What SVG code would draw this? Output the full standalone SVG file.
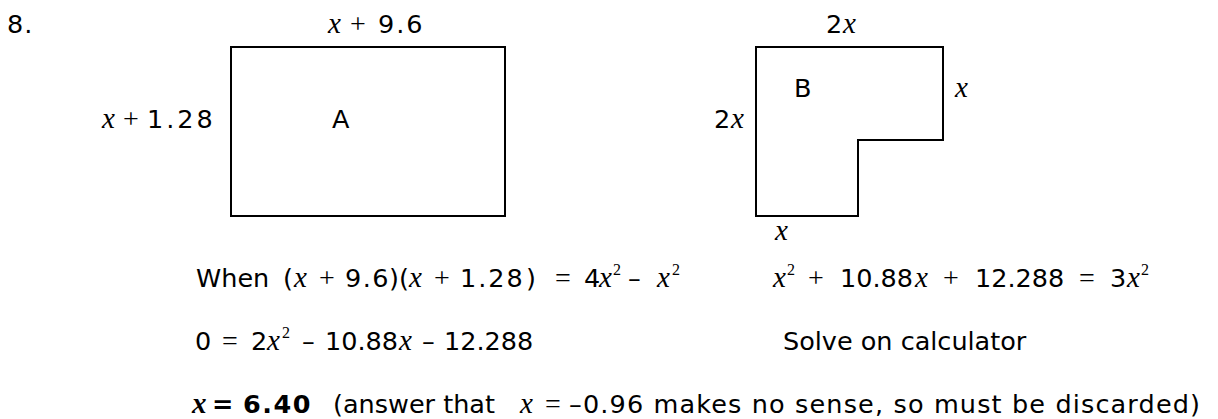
<svg xmlns="http://www.w3.org/2000/svg" width="1218" height="419" viewBox="0 0 1218 419">
<style>
.t{font-family:"DejaVu Sans",Verdana,sans-serif;font-size:25.5px;fill:#000}
.n{letter-spacing:2px}
.m{font-family:"Liberation Serif","Times New Roman",serif;font-style:italic;font-size:29px;fill:#000}
.o{font-family:"Liberation Serif","Times New Roman",serif;font-size:28px;fill:#000}
.s{font-family:"Liberation Serif","Times New Roman",serif;font-size:16px;fill:#000}
.b{font-weight:bold}
.shape{fill:none;stroke:#000;stroke-width:2}
</style>
<rect width="1218" height="419" fill="#fff"/>
<text class="t" x="7" y="33" letter-spacing="1">8.</text>

<g id="rect-A">
<rect class="shape" x="231" y="47" width="274" height="169"/>
<text class="t" x="332" y="128">A</text>
<text class="m" x="328" y="33">x</text>
<text class="o" x="350" y="33">+</text>
<text class="t n" x="378" y="33">9.6</text>
<text class="m" x="102" y="128">x</text>
<text class="o" x="123" y="128">+</text>
<text class="t" x="147" y="128" letter-spacing="3">1.28</text>
</g>

<g id="shape-B">
<path class="shape" d="M756,47 H943 V140 H858 V216 H756 Z"/>
<text class="t" x="794" y="97">B</text>
<text class="t" x="826" y="33">2</text>
<text class="m" x="843" y="33">x</text>
<text class="m" x="955" y="97">x</text>
<text class="t" x="714" y="128">2</text>
<text class="m" x="731" y="128">x</text>
<text class="m" x="775" y="240">x</text>
</g>

<g id="connectors"></g>

<g id="working">
<text class="t" x="196" y="287">When</text>
<text class="t" x="283" y="287">(</text>
<text class="m" x="294" y="287">x</text>
<text class="o" x="319" y="287">+</text>
<text class="t" x="345" y="287" letter-spacing="1.5">9.6</text>
<text class="t" x="389" y="287">)(</text>
<text class="m" x="409" y="287">x</text>
<text class="o" x="434" y="287">+</text>
<text class="t" x="460" y="287" letter-spacing="2">1.28</text>
<text class="t" x="526" y="287">)</text>
<text class="o" x="555" y="287">=</text>
<text class="t" x="584" y="287">4</text>
<text class="m" x="599" y="287">x</text>
<text class="s" x="613" y="275">2</text>
<text class="t" x="628" y="287">–</text>
<text class="m" x="657" y="287">x</text>
<text class="s" x="672" y="275">2</text>

<text class="m" x="773" y="287">x</text>
<text class="s" x="787" y="275">2</text>
<text class="o" x="808" y="287">+</text>
<text class="t" x="840" y="287">10.88</text>
<text class="m" x="915" y="287">x</text>
<text class="o" x="943" y="287">+</text>
<text class="t" x="975" y="287">12.288</text>
<text class="o" x="1079" y="287">=</text>
<text class="t" x="1110" y="287">3</text>
<text class="m" x="1127" y="287">x</text>
<text class="s" x="1141" y="275">2</text>

<text class="t" x="195" y="350">0</text>
<text class="o" x="222" y="350">=</text>
<text class="t" x="251" y="350">2</text>
<text class="m" x="267" y="350">x</text>
<text class="s" x="282" y="338">2</text>
<text class="t" x="302" y="350">–</text>
<text class="t" x="325" y="350">10.88</text>
<text class="m" x="399" y="350">x</text>
<text class="t" x="422" y="350">–</text>
<text class="t" x="444" y="350">12.288</text>
<text class="t" x="783" y="350">Solve on calculator</text>

<text class="m b" x="192" y="413">x</text>
<text class="t b" x="212" y="413">=</text>
<text class="t b" x="243" y="413" letter-spacing="1.5">6.40</text>
<text class="t" x="333" y="413">(answer that</text>
<text class="m" x="520" y="413">x</text>
<text class="o" x="545" y="413">=</text>
<text class="t" x="569" y="413" font-size="26" textLength="631" lengthAdjust="spacing">–0.96 makes no sense, so must be discarded)</text>
</g>
</svg>
